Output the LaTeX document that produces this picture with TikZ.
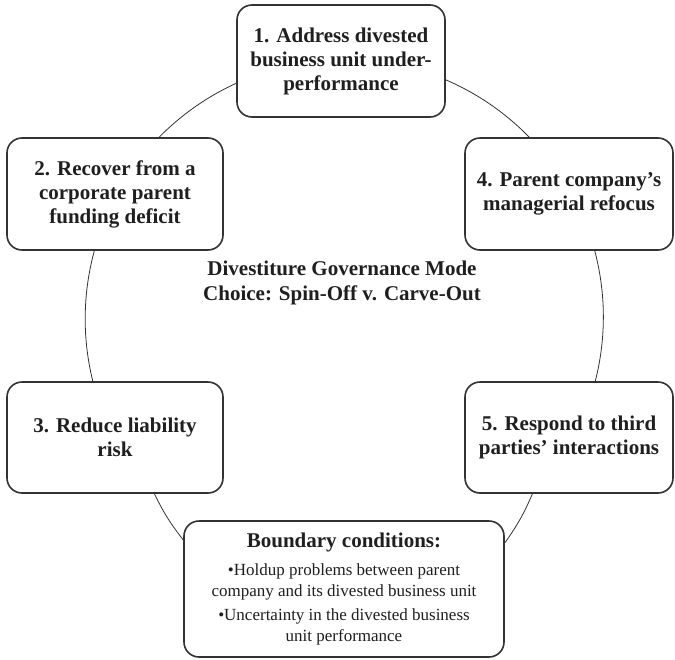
\documentclass[tikz,border=0pt]{standalone}
\usepackage{fontspec}
\setmainfont{Liberation Serif}
\usetikzlibrary{backgrounds}
\begin{document}
\begin{tikzpicture}[x=1pt,y=-1pt,
  box/.style={draw=black!80, line width=1.6pt, rounded corners=15pt, fill=white,
    align=center, text=black!88, inner sep=0pt,
    font=\fontsize{21}{24}\selectfont\bfseries},
  ring/.style={draw=black!80, line width=0.8pt},
  title/.style={align=center, text=black!88, font=\fontsize{21}{25}\selectfont\bfseries}]
\useasboundingbox (0,0) rectangle (675,659);

\node[box, minimum width=208pt, minimum height=112pt] (b1) at (341,61)
  {1. Address divested\\business unit under-\\performance};
\node[box, minimum width=216pt, minimum height=112pt] (b2) at (115,194)
  {2. Recover from a\\corporate parent\\funding deficit};
\node[box, minimum width=208pt, minimum height=112pt] (b4) at (569,194)
  {4. Parent company’s\\managerial refocus};
\node[box, minimum width=216pt, minimum height=111pt] (b3) at (115,437.5)
  {3. Reduce liability\\risk};
\node[box, minimum width=208pt, minimum height=111pt] (b5) at (569,437.5)
  {5. Respond to third\\parties’ interactions};
\node[box, minimum width=320pt, minimum height=136pt, font=\fontsize{17}{21}\selectfont] (bb) at (344,589)
  {{\fontsize{21}{24}\selectfont\bfseries Boundary conditions:}\\[7pt]
   \textbullet{}Holdup problems between parent\\
   company and its divested business unit\\[3pt]
   \textbullet{}Uncertainty in the divested business\\
   unit performance};

\node[title] (t) at (342,283) {Divestiture Governance Mode\\Choice: Spin-Off v. Carve-Out};

\begin{scope}[on background layer]
  \draw[ring] (b1.192) arc[start angle=245.5, end angle=222, radius=258];
  \draw[ring] (b2.250.4) arc[start angle=195.3, end angle=163, radius=258];
  \draw[ring] (b3.305.4) to[bend right=6] (bb.163.3);
  \draw[ring] (bb.16.7) to[bend right=6] (b5.237.5);
  \draw[ring] (b5.65.8) arc[start angle=14.4, end angle=-18, radius=258];
  \draw[ring] (b4.125.7) arc[start angle=-44.2, end angle=-70, radius=258];
\end{scope}
\end{tikzpicture}
\end{document}
